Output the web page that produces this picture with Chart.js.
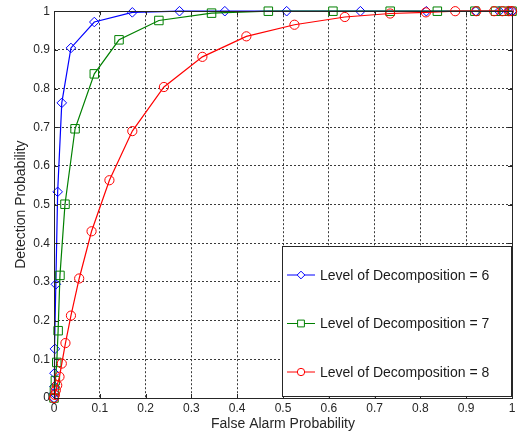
<!DOCTYPE html>
<html>
<head>
<meta charset="utf-8">
<script src="https://cdn.jsdelivr.net/npm/chart.js@4.4.1/dist/chart.umd.min.js"></script>
<style>
    html, body { margin: 0; padding: 0; background: #fff; }
</style>
</head>
<body>
<canvas id="roc" width="519" height="434"></canvas>
<script>
// ROC curves
const level6X = [0, 0.0005, 0.001, 0.001, 0.002, 0.004, 0.008, 0.017, 0.037, 0.088, 0.171, 0.274, 0.373, 0.508, 0.669, 0.813, 0.921, 0.972, 0.993, 1];
const level6Y = [0, 0.012, 0.03, 0.064, 0.127, 0.294, 0.533, 0.763, 0.905, 0.972, 0.997, 1, 1, 1, 1, 1, 1, 1, 1, 1];

const level7X = [0, 0.001, 0.003, 0.006, 0.009, 0.013, 0.024, 0.046, 0.088, 0.142, 0.229, 0.344, 0.468, 0.609, 0.734, 0.837, 0.919, 0.964, 0.983, 1];
const level7Y = [0, 0.02, 0.045, 0.092, 0.174, 0.317, 0.501, 0.696, 0.838, 0.926, 0.976, 0.995, 1, 1, 1, 1, 1, 1, 1, 1];

const level8X = [0, 0.002, 0.004, 0.007, 0.012, 0.017, 0.025, 0.037, 0.055, 0.082, 0.121, 0.171, 0.240, 0.324, 0.420, 0.525, 0.635, 0.734, 0.812, 0.876, 0.922, 0.961, 0.979, 0.993, 1];
const level8Y = [0, 0.008, 0.02, 0.033, 0.055, 0.089, 0.142, 0.213, 0.309, 0.431, 0.563, 0.690, 0.804, 0.882, 0.935, 0.965, 0.985, 0.994, 0.997, 1, 1, 1, 1, 1, 1];

const seriesLabels = ['Level of Decomposition = 6', 'Level of Decomposition = 7', 'Level of Decomposition = 8'];
const xTickLabels = ['0', '0.1', '0.2', '0.3', '0.4', '0.5', '0.6', '0.7', '0.8', '0.9', '1'];
const yTickLabels = ['0', '0.1', '0.2', '0.3', '0.4', '0.5', '0.6', '0.7', '0.8', '0.9', '1'];

const FONT = '"Liberation Sans", Arial, sans-serif';
const INK = '#262626';

const toPoints = (xs, ys) => xs.map((x, i) => ({ x: x, y: ys[i] }));

// marker size per style, roughly matlab's default markers
const markerRadius = { rectRot: 4.8, rect: 6, circle: 4.6 };

// box, inner ticks (matlab style)
const axesBox = {
    id: 'axesBox',
    afterDatasetsDraw: (chart) => {
        const ctx = chart.ctx;
        const a = chart.chartArea;
        const xs = chart.scales.x;
        const ys = chart.scales.y;
        ctx.save();
        ctx.strokeStyle = INK;
        ctx.lineWidth = 1;
        ctx.beginPath();
        xs.ticks.forEach(t => {
            const px = Math.round(xs.getPixelForValue(t.value)) + 0.5;
            ctx.moveTo(px, a.bottom); ctx.lineTo(px, a.bottom - 4);
            ctx.moveTo(px, a.top); ctx.lineTo(px, a.top + 4);
        });
        ys.ticks.forEach(t => {
            const py = Math.round(ys.getPixelForValue(t.value)) + 0.5;
            ctx.moveTo(a.left, py); ctx.lineTo(a.left + 4, py);
            ctx.moveTo(a.right, py); ctx.lineTo(a.right - 4, py);
        });
        ctx.stroke();
        ctx.strokeRect(Math.round(a.left) + 0.5, Math.round(a.top) + 0.5,
            Math.round(a.right - a.left), Math.round(a.bottom - a.top));
        ctx.restore();
    }
};

// legend box in the lower right corner
const rocLegend = {
    id: 'rocLegend',
    afterDraw: (chart) => {
        const ctx = chart.ctx;
        const a = chart.chartArea;
        const left = a.right - 230, top = a.bottom - 152, w = 229, h = 150;
        ctx.save();
        ctx.fillStyle = '#fff';
        ctx.fillRect(left, top, w, h);
        ctx.strokeStyle = INK;
        ctx.lineWidth = 1;
        ctx.strokeRect(left + 0.5, top + 0.5, w, h);
        ctx.font = '14px ' + FONT;
        ctx.textBaseline = 'middle';
        chart.data.datasets.forEach((ds, i) => {
            const cy = top + 29 + i * 48.5;
            ctx.strokeStyle = ds.borderColor;
            ctx.beginPath();
            ctx.moveTo(left + 5, cy); ctx.lineTo(left + 33, cy);
            ctx.stroke();
            ctx.fillStyle = '#fff';
            Chart.helpers.drawPoint(ctx, {
                pointStyle: ds.pointStyle, radius: ds.pointRadius * 0.8, borderWidth: 1
            }, left + 19, cy);
            ctx.fillStyle = '#1a1a1a';
            ctx.fillText(ds.label, left + 38, cy + 1);
        });
        ctx.restore();
    }
};

const makeSet = (label, xs, ys, color, style, order) => ({
    label: label,
    data: toPoints(xs, ys),
    borderColor: color,
    backgroundColor: 'rgba(0,0,0,0)',
    pointBorderColor: color,
    pointBackgroundColor: 'rgba(0,0,0,0)',
    pointStyle: style,
    pointRadius: markerRadius[style],
    pointBorderWidth: 1,
    borderWidth: 1.2,
    tension: 0,
    clip: false,
    order: order
});

new Chart(document.getElementById('roc').getContext('2d'), {
    type: 'scatter',
    data: {
        datasets: [
            makeSet(seriesLabels[0], level6X, level6Y, '#0000ff', 'rectRot', 2),
            makeSet(seriesLabels[1], level7X, level7Y, '#008000', 'rect', 1),
            makeSet(seriesLabels[2], level8X, level8Y, '#ff0000', 'circle', 0)
        ]
    },
    options: {
        responsive: false,
        animation: false,
        showLine: true,
        layout: { padding: { left: 0, right: 6, top: 8, bottom: 0 } },
        plugins: {
            legend: { display: false },
            tooltip: { enabled: false }
        },
        scales: {
            x: {
                type: 'linear',
                min: 0,
                max: 1,
                afterFit: (scale) => { scale.height = 36; },
                ticks: {
                    stepSize: 0.1,
                    padding: 3,
                    color: INK,
                    font: { family: FONT, size: 12 },
                    maxRotation: 0,
                    callback: (v, i) => xTickLabels[i]
                },
                grid: {
                    color: '#3a3a3a',
                    lineWidth: 1,
                    drawTicks: false
                },
                border: { display: false, dash: [2, 2] },
                title: {
                    display: true,
                    text: 'False Alarm Probability',
                    color: INK,
                    font: { family: FONT, size: 14 },
                    padding: { top: 0, bottom: 1.5 }
                }
            },
            y: {
                type: 'linear',
                min: 0,
                max: 1,
                afterFit: (scale) => { scale.width = 54; },
                ticks: {
                    stepSize: 0.1,
                    padding: 4,
                    color: INK,
                    font: { family: FONT, size: 12 },
                    callback: (v, i) => yTickLabels[i]
                },
                grid: {
                    color: '#3a3a3a',
                    lineWidth: 1,
                    drawTicks: false
                },
                border: { display: false, dash: [2, 2] },
                title: {
                    display: true,
                    text: 'Detection Probability',
                    color: INK,
                    font: { family: FONT, size: 14 },
                    padding: { top: 13, bottom: 0 }
                }
            }
        }
    },
    plugins: [axesBox, rocLegend]
});
</script>
</body>
</html>
